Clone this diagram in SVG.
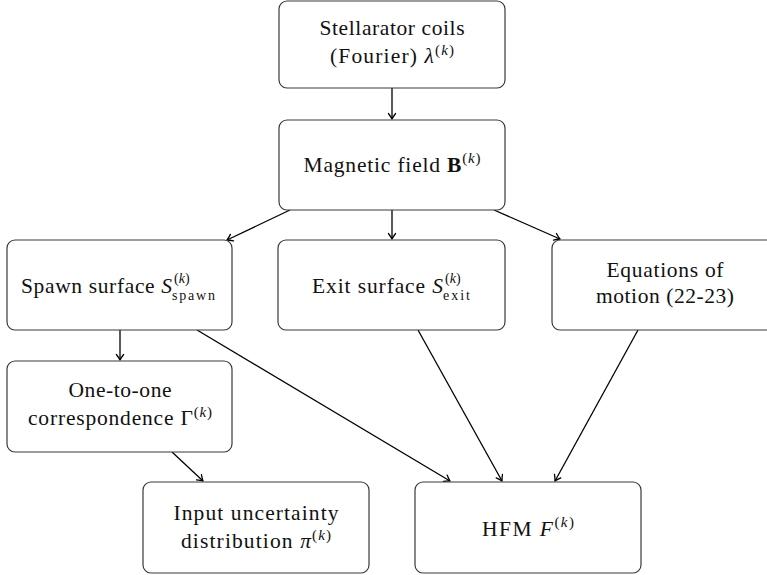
<svg xmlns="http://www.w3.org/2000/svg" width="767" height="575" viewBox="0 0 767 575">
<defs>
<style>
.box{fill:#fff;stroke:#3a3a3a;stroke-width:1.2}
.t{font-size:21.5px;fill:#111}
.c{text-anchor:middle}
.i{font-style:italic}
.b{font-weight:bold}
.s{font-size:15px}
.ss{font-size:14px}
.e{stroke:#000;stroke-width:1.3;fill:none;marker-end:url(#ah)}
</style>
<marker id="ah" viewBox="-7 -5 8 10" refX="0" refY="0" markerWidth="8" markerHeight="10" markerUnits="userSpaceOnUse" orient="auto">
<path d="M-5.5,-3.6 Q-1.8,-0.8 0,0 Q-1.8,0.8 -5.5,3.6" fill="none" stroke="#000" stroke-width="1.3" stroke-linecap="round" stroke-linejoin="round"/>
</marker>
</defs>
<rect width="767" height="575" fill="#fff"/>
<g id="connectors">
<line class="e" x1="392" y1="88" x2="392" y2="119"/>
<line class="e" x1="290" y1="210" x2="227" y2="240"/>
<line class="e" x1="392" y1="210" x2="392" y2="239"/>
<line class="e" x1="494" y1="210" x2="560" y2="239"/>
<line class="e" x1="120" y1="330" x2="120" y2="360"/>
<line class="e" x1="172" y1="452" x2="203" y2="481"/>
<line class="e" x1="197" y1="330" x2="450" y2="481"/>
<line class="e" x1="418" y1="330" x2="502" y2="481"/>
<line class="e" x1="638" y1="330" x2="555" y2="481"/>
</g>
<g font-family="'Liberation Serif', 'DejaVu Serif', serif">
<g id="stellarator">
<rect class="box" x="279" y="1" width="226" height="87" rx="8"/>
<text class="t c" x="392" y="35" textLength="145">Stellarator coils</text>
<text class="t c" x="392" y="63" textLength="124">(Fourier) <tspan class="i">λ</tspan><tspan class="s" dy="-8">(<tspan class="i">k</tspan>)</tspan></text>
</g>
<g id="magnetic">
<rect class="box" x="279" y="120" width="226" height="90" rx="8"/>
<text class="t c" x="392" y="172" textLength="177">Magnetic field <tspan class="b">B</tspan><tspan class="s" dy="-9">(<tspan class="i">k</tspan>)</tspan></text>
</g>
<g id="spawn">
<rect class="box" x="7" y="240" width="225" height="90" rx="8"/>
<text class="t" x="21" y="293" textLength="151">Spawn surface <tspan class="i">S</tspan></text>
<text class="t ss" x="174" y="283">(<tspan class="i">k</tspan>)</text>
<text class="t ss" x="172" y="300" textLength="43">spawn</text>
</g>
<g id="exit">
<rect class="box" x="278" y="240" width="227" height="90" rx="8"/>
<text class="t" x="312" y="293" textLength="131">Exit surface <tspan class="i">S</tspan></text>
<text class="t ss" x="445" y="283">(<tspan class="i">k</tspan>)</text>
<text class="t ss" x="443" y="300" textLength="27">exit</text>
</g>
<g id="equations">
<rect class="box" x="552" y="240" width="226" height="90" rx="8"/>
<text class="t c" x="665" y="277" textLength="117">Equations of</text>
<text class="t c" x="665" y="303" textLength="138">motion (22-23)</text>
</g>
<g id="onetoone">
<rect class="box" x="7" y="361" width="225" height="91" rx="8"/>
<text class="t c" x="120" y="397" textLength="103">One-to-one</text>
<text class="t c" x="120" y="425" textLength="184">correspondence Γ<tspan class="s" dy="-8">(<tspan class="i">k</tspan>)</tspan></text>
</g>
<g id="input">
<rect class="box" x="143" y="482" width="226" height="91" rx="8"/>
<text class="t c" x="256" y="520" textLength="165">Input uncertainty</text>
<text class="t c" x="256" y="548" textLength="150">distribution <tspan class="i">π</tspan><tspan class="s" dy="-8">(<tspan class="i">k</tspan>)</tspan></text>
</g>
<g id="hfm">
<rect class="box" x="415" y="482" width="226" height="91" rx="8"/>
<text class="t c" x="528" y="536" textLength="92">HFM <tspan class="i">F</tspan><tspan class="s" dy="-9">(<tspan class="i">k</tspan>)</tspan></text>
</g>
</g>
</svg>
